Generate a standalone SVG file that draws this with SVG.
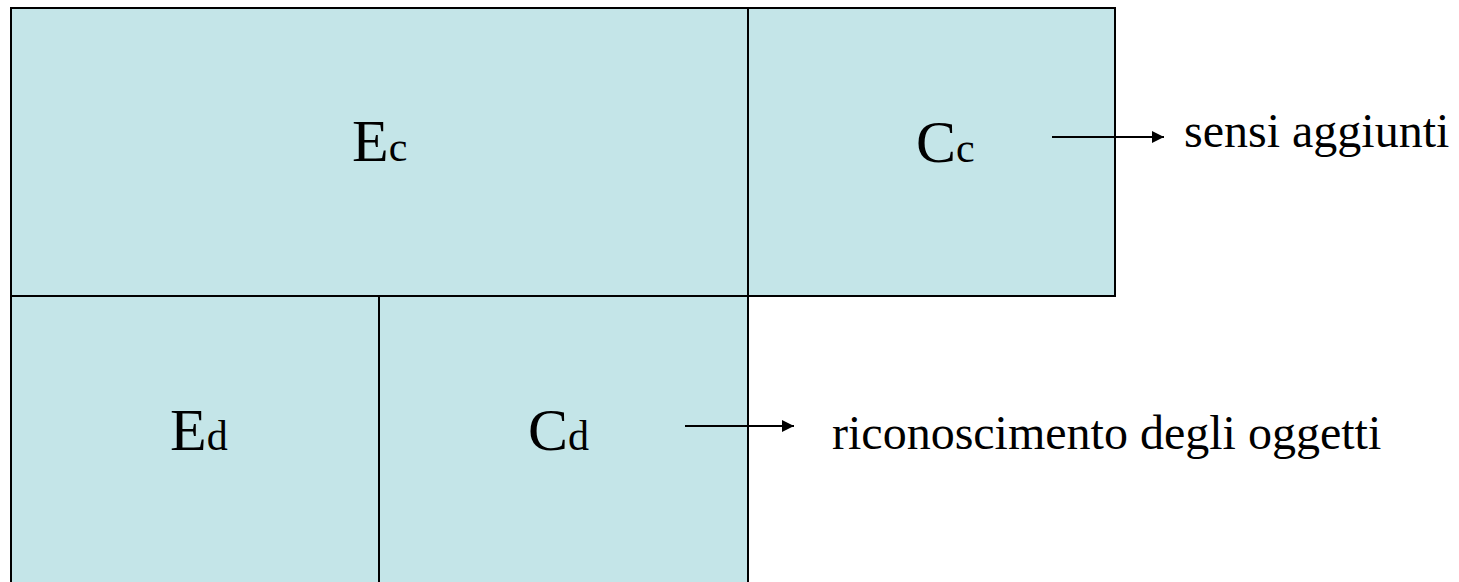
<svg xmlns="http://www.w3.org/2000/svg" width="1459" height="582" viewBox="0 0 1459 582">
<style>
.box{fill:#C4E5E8;stroke:#000;stroke-width:2}
.big{font-family:"Liberation Serif","Times New Roman",serif;font-size:60px;fill:#000}
.sub{font-size:42px}
.lbl{font-family:"Liberation Serif","Times New Roman",serif;font-size:48px;fill:#000}
.conn{stroke:#000;stroke-width:2;fill:none}
</style>
<defs>
<marker id="ah" viewBox="0 0 10 10" refX="10" refY="5" markerWidth="8" markerHeight="6" markerUnits="strokeWidth" orient="auto">
<path d="M0,0 L10,5 L0,10 z" fill="#000"/>
</marker>
</defs>
<rect width="1459" height="582" fill="#fff"/>
<g id="Ec"><rect class="box" x="11" y="8" width="737" height="288"/><text class="big" x="352" y="161">E<tspan class="sub">c</tspan></text></g>
<g id="Cc"><rect class="box" x="748" y="8" width="367" height="288"/><text class="big" x="916" y="162">C<tspan class="sub">c</tspan></text></g>
<g id="Ed"><rect class="box" x="11" y="296" width="368" height="300"/><text class="big" x="170" y="450">E<tspan class="sub">d</tspan></text></g>
<g id="Cd"><rect class="box" x="379" y="296" width="369" height="300"/><text class="big" x="528" y="450">C<tspan class="sub">d</tspan></text></g>
<g id="labels">
<text class="lbl" x="1184" y="147">sensi aggiunti</text>
<text class="lbl" x="832" y="449">riconoscimento degli oggetti</text>
</g>
<g id="connectors">
<line class="conn" x1="1052" y1="137" x2="1164" y2="137" marker-end="url(#ah)"/>
<line class="conn" x1="685" y1="426" x2="794" y2="426" marker-end="url(#ah)"/>
</g>
</svg>
